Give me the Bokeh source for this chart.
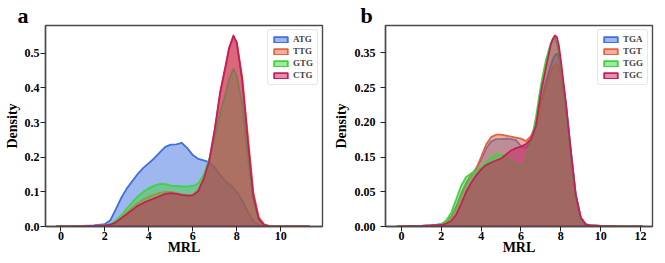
from bokeh.plotting import figure
from bokeh.layouts import row
from bokeh.models import Legend, LegendItem, FixedTicker, Title
from bokeh.embed import file_html
from bokeh.resources import INLINE

FONT = "Liberation Serif"

# ---------------- Panel a: start codons ----------------
xa = [-0.2, 0.5, 1.0, 1.5, 2.0, 2.25, 2.5, 2.75, 3.0, 3.25, 3.5, 3.75, 4.0, 4.25,
      4.5, 4.75, 5.0, 5.25, 5.5, 5.75, 6.0, 6.25, 6.5, 6.75, 7.0, 7.25, 7.5, 7.65,
      7.85, 8.0, 8.25, 8.5, 8.75, 9.0, 9.25, 9.5, 10.0, 11.3]
atg = [0.0, 0.001, 0.002, 0.003, 0.007, 0.018, 0.05, 0.083, 0.11, 0.131, 0.152, 0.169,
       0.183, 0.197, 0.214, 0.23, 0.236, 0.237, 0.241, 0.226, 0.206, 0.195, 0.191,
       0.185, 0.17, 0.148, 0.13, 0.122, 0.112, 0.1, 0.075, 0.042, 0.016, 0.005, 0.002,
       0.001, 0.0, 0.0]
ttg = [0.0, 0.0005, 0.001, 0.002, 0.003, 0.006, 0.012, 0.025, 0.04, 0.055, 0.068, 0.078,
       0.086, 0.092, 0.097, 0.1, 0.1, 0.097, 0.093, 0.091, 0.092, 0.106, 0.14, 0.19,
       0.28, 0.385, 0.462, 0.512, 0.548, 0.532, 0.43, 0.265, 0.1, 0.027, 0.006, 0.001,
       0.0, 0.0]
gtg = [0.0, 0.0005, 0.001, 0.002, 0.003, 0.006, 0.017, 0.033, 0.052, 0.07, 0.087, 0.1,
       0.11, 0.118, 0.123, 0.122, 0.118, 0.117, 0.116, 0.115, 0.117, 0.124, 0.15, 0.195,
       0.255, 0.33, 0.385, 0.425, 0.455, 0.435, 0.35, 0.2, 0.075, 0.018, 0.004, 0.001,
       0.0, 0.0]
ctg = [0.0, 0.0005, 0.001, 0.002, 0.003, 0.005, 0.012, 0.024, 0.036, 0.048, 0.06, 0.068,
       0.075, 0.081, 0.088, 0.094, 0.096, 0.094, 0.091, 0.089, 0.09, 0.102, 0.138, 0.19,
       0.28, 0.39, 0.467, 0.515, 0.551, 0.53, 0.42, 0.25, 0.09, 0.022, 0.004, 0.001,
       0.0, 0.0]
names_a = ["ATG", "TTG", "GTG", "CTG"]

# ---------------- Panel b: stop codons ----------------
xb = [-0.2, 0.5, 1.0, 1.5, 2.0, 2.25, 2.5, 2.75, 3.0, 3.25, 3.5, 3.75, 4.0, 4.25,
      4.5, 4.75, 5.0, 5.25, 5.5, 5.75, 6.0, 6.25, 6.5, 6.75, 7.0, 7.25, 7.5, 7.6,
      7.7, 7.8, 7.9, 8.0, 8.25, 8.5, 8.75, 9.0, 9.25, 9.5, 10.0, 11.0, 12.1]
tga = [0.0, 0.0005, 0.001, 0.002, 0.004, 0.009, 0.02, 0.04, 0.066, 0.088, 0.104, 0.117,
       0.135, 0.157, 0.171, 0.176, 0.176, 0.177, 0.176, 0.174, 0.162, 0.158, 0.172, 0.2,
       0.25, 0.29, 0.325, 0.337, 0.345, 0.348, 0.34, 0.322, 0.25, 0.155, 0.065, 0.018,
       0.005, 0.002, 0.001, 0.0, 0.0]
tgt = [0.0, 0.0005, 0.001, 0.002, 0.004, 0.008, 0.018, 0.036, 0.062, 0.085, 0.102, 0.116,
       0.14, 0.165, 0.18, 0.185, 0.185, 0.183, 0.181, 0.179, 0.177, 0.172, 0.182, 0.205,
       0.245, 0.28, 0.31, 0.32, 0.326, 0.328, 0.322, 0.305, 0.24, 0.15, 0.062, 0.017,
       0.005, 0.002, 0.001, 0.0, 0.0]
tgg = [0.0, 0.0005, 0.001, 0.002, 0.005, 0.012, 0.028, 0.055, 0.082, 0.1, 0.107, 0.112,
       0.12, 0.129, 0.138, 0.146, 0.145, 0.139, 0.132, 0.125, 0.119, 0.135, 0.17, 0.22,
       0.285, 0.335, 0.37, 0.378, 0.38, 0.37, 0.35, 0.32, 0.24, 0.145, 0.058, 0.015,
       0.004, 0.002, 0.001, 0.0005, 0.0]
tgc = [0.0, 0.0005, 0.001, 0.002, 0.003, 0.006, 0.011, 0.024, 0.046, 0.07, 0.088, 0.103,
       0.115, 0.124, 0.129, 0.133, 0.137, 0.145, 0.153, 0.158, 0.161, 0.166, 0.176, 0.203,
       0.27, 0.32, 0.367, 0.378, 0.385, 0.382, 0.365, 0.335, 0.25, 0.152, 0.063, 0.018,
       0.004, 0.002, 0.001, 0.0, 0.0]
names_b = ["TGA", "TGT", "TGG", "TGC"]

colors = ["#3f6fe0", "#e0643e", "#3fd43c", "#c41f5c"]

xticks_a = [0, 2, 4, 6, 8, 10]
yticks_a = [0.0, 0.1, 0.2, 0.3, 0.4, 0.5]
ylabels_a = ["0.0", "0.1", "0.2", "0.3", "0.4", "0.5"]
xticks_b = [0, 2, 4, 6, 8, 10, 12]
yticks_b = [0.0, 0.07, 0.14, 0.21, 0.28, 0.35]
ylabels_b = ["0.00", "0.05", "0.15", "0.20", "0.25", "0.35"]


def panel(x, series, names, width, xr, yr, xticks, yticks, ylabels,
          bl, br, ystandoff, ylab_standoff, letter, loff):
    p = figure(width=width, height=262, x_range=xr, y_range=yr,
               output_backend="svg", toolbar_location=None,
               min_border_left=bl, min_border_right=br,
               min_border_top=25, min_border_bottom=36)
    p.grid.visible = False
    p.outline_line_color = "#4a4a4a"
    p.outline_line_width = 1.4
    p.background_fill_color = "white"
    p.border_fill_color = "white"

    p.title = Title(text=letter, text_font=FONT, text_font_style="bold",
                    text_font_size="22px", align="left", offset=loff,
                    standoff=-5, text_color="black")

    items = []
    for vals, name, c in zip(series, names, colors):
        xs = list(x) + list(x)[::-1]
        ys = list(vals) + [0.0] * len(x)
        r = p.patch(xs, ys, fill_color=c, fill_alpha=0.5, line_color=c,
                    line_width=1.8, line_join="round")
        items.append(LegendItem(label=name, renderers=[r]))
    for ax in (p.xaxis[0], p.yaxis[0]):
        ax.axis_line_color = "#4a4a4a"
        ax.axis_line_width = 1.4
        ax.major_tick_line_color = "#222222"
        ax.major_tick_line_width = 1
        ax.major_tick_out = 5
        ax.major_tick_in = 0
        ax.minor_tick_out = 0
        ax.minor_tick_in = 0
        ax.major_label_text_font = FONT
        ax.major_label_text_font_style = "bold"
        ax.major_label_text_font_size = "12px"
        ax.major_label_text_color = "black"
        ax.axis_label_text_font = FONT
        ax.axis_label_text_font_style = "bold"
        ax.axis_label_text_font_size = "14px"
        ax.axis_label_text_color = "black"
    p.xaxis.axis_label = "MRL"
    p.xaxis.axis_label_standoff = -3
    p.xaxis.major_label_standoff = 0
    p.xaxis.ticker = FixedTicker(ticks=xticks)
    p.yaxis.axis_label = "Density"
    p.yaxis.axis_label_standoff = ylab_standoff
    p.yaxis.major_label_standoff = ystandoff
    p.yaxis.ticker = FixedTicker(ticks=yticks)
    p.yaxis.major_label_overrides = {t: l for t, l in zip(yticks, ylabels)}

    legend = Legend(items=items, location="top_right")
    legend.label_text_font = FONT
    legend.label_text_font_style = "bold"
    legend.label_text_font_size = "9px"
    legend.label_height = 8
    legend.glyph_width = 17
    legend.glyph_height = 7
    legend.spacing = 2
    legend.padding = 4
    legend.margin = 4
    legend.label_standoff = 4
    legend.border_line_color = "#d0d0d0"
    legend.border_line_width = 1
    legend.border_radius = 3
    legend.background_fill_alpha = 0.85
    p.add_layout(legend)
    return p


pa = panel(xa, [atg, ttg, gtg, ctg], names_a, 330, (-0.7, 11.9), (0, 0.58),
           xticks_a, yticks_a, ylabels_a, 45, 8, 1, 2, "a", -28)
pb = panel(xb, [tga, tgt, tgg, tgc], names_b, 334, (-0.8, 12.6), (0, 0.405),
           xticks_b, yticks_b, ylabels_b, 53, 12, 5, 3, "b", -25)

layout = row(pa, pb)
open("out.html", "w").write(file_html(layout, INLINE))
